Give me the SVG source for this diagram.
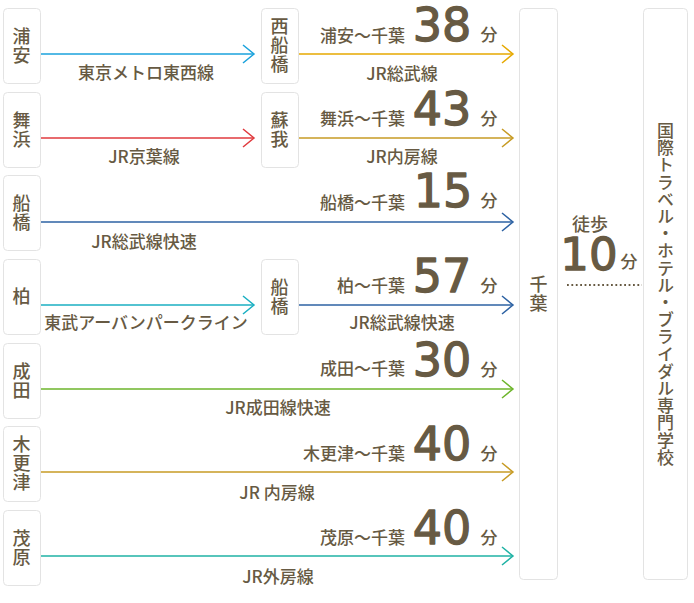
<svg xmlns="http://www.w3.org/2000/svg" width="694" height="603" viewBox="0 0 694 603">
<style>
.bg{fill:#ffffff}
.box{fill:#ffffff;stroke:#e3e3e3;stroke-width:1}
.t{font-family:"Noto Sans CJK JP","Noto Sans",sans-serif;fill:#675a43;font-weight:500}
.st{font-size:18px;writing-mode:vertical-rl;text-anchor:middle;letter-spacing:1px}
.lb{font-size:17px}
.lc{text-anchor:middle}
.le{text-anchor:end}
.num{font-family:"DejaVu Sans","Liberation Sans",sans-serif;font-weight:normal;font-size:46px;fill:#675a43;stroke:#675a43;stroke-width:1.3px;stroke-linejoin:round;text-anchor:middle}
.ln{fill:none;stroke-width:1.5}
.dot{fill:none;stroke:#675a43;stroke-width:1.8;stroke-dasharray:1.8 2.6}
</style>
<defs>
<marker id="mCyan" markerUnits="userSpaceOnUse" markerWidth="14" markerHeight="22" refX="12" refY="10" orient="auto" viewBox="0 0 14 22"><path d="M1,1 L12,10 L1,19" fill="none" stroke="#1aa2dc" stroke-width="1.5"/></marker>
<marker id="mYellow" markerUnits="userSpaceOnUse" markerWidth="14" markerHeight="22" refX="12" refY="10" orient="auto" viewBox="0 0 14 22"><path d="M1,1 L12,10 L1,19" fill="none" stroke="#e6a900" stroke-width="1.5"/></marker>
<marker id="mRed" markerUnits="userSpaceOnUse" markerWidth="14" markerHeight="22" refX="12" refY="10" orient="auto" viewBox="0 0 14 22"><path d="M1,1 L12,10 L1,19" fill="none" stroke="#e03a3e" stroke-width="1.5"/></marker>
<marker id="mMustard" markerUnits="userSpaceOnUse" markerWidth="14" markerHeight="22" refX="12" refY="10" orient="auto" viewBox="0 0 14 22"><path d="M1,1 L12,10 L1,19" fill="none" stroke="#c79b24" stroke-width="1.5"/></marker>
<marker id="mBlue" markerUnits="userSpaceOnUse" markerWidth="14" markerHeight="22" refX="12" refY="10" orient="auto" viewBox="0 0 14 22"><path d="M1,1 L12,10 L1,19" fill="none" stroke="#2d62a3" stroke-width="1.5"/></marker>
<marker id="mTeal" markerUnits="userSpaceOnUse" markerWidth="14" markerHeight="22" refX="12" refY="10" orient="auto" viewBox="0 0 14 22"><path d="M1,1 L12,10 L1,19" fill="none" stroke="#1aafc2" stroke-width="1.5"/></marker>
<marker id="mGreen" markerUnits="userSpaceOnUse" markerWidth="14" markerHeight="22" refX="12" refY="10" orient="auto" viewBox="0 0 14 22"><path d="M1,1 L12,10 L1,19" fill="none" stroke="#6db52b" stroke-width="1.5"/></marker>
<marker id="mSea" markerUnits="userSpaceOnUse" markerWidth="14" markerHeight="22" refX="12" refY="10" orient="auto" viewBox="0 0 14 22"><path d="M1,1 L12,10 L1,19" fill="none" stroke="#1fb2a4" stroke-width="1.5"/></marker>
</defs>
<rect class="bg" x="0" y="0" width="694" height="603"/>

<g id="connectors">
<line class="ln" x1="40" y1="54" x2="254" y2="54" stroke="#1aa2dc" marker-end="url(#mCyan)"/>
<line class="ln" x1="298" y1="54" x2="513" y2="54" stroke="#e6a900" marker-end="url(#mYellow)"/>
<line class="ln" x1="40" y1="138" x2="254" y2="138" stroke="#e03a3e" marker-end="url(#mRed)"/>
<line class="ln" x1="298" y1="138" x2="513" y2="138" stroke="#c79b24" marker-end="url(#mMustard)"/>
<line class="ln" x1="40" y1="222" x2="513" y2="222" stroke="#2d62a3" marker-end="url(#mBlue)"/>
<line class="ln" x1="40" y1="305" x2="254" y2="305" stroke="#1aafc2" marker-end="url(#mTeal)"/>
<line class="ln" x1="298" y1="305" x2="513" y2="305" stroke="#2d62a3" marker-end="url(#mBlue)"/>
<line class="ln" x1="40" y1="389" x2="513" y2="389" stroke="#6db52b" marker-end="url(#mGreen)"/>
<line class="ln" x1="40" y1="472" x2="513" y2="472" stroke="#c79b24" marker-end="url(#mMustard)"/>
<line class="ln" x1="40" y1="556" x2="513" y2="556" stroke="#1fb2a4" marker-end="url(#mSea)"/>
<line class="dot" x1="567" y1="285" x2="642" y2="285"/>
</g>

<g id="labels">
<text class="t lb lc" x="146" y="79">東京メトロ東西線</text>
<text class="t lb le" x="405" y="42">浦安〜千葉</text>
<text class="num" x="442" y="41">38</text>
<text class="t lb lc" x="489" y="41">分</text>
<text class="t lb lc" x="402" y="80">JR総武線</text>

<text class="t lb lc" x="144" y="163">JR京葉線</text>
<text class="t lb le" x="405" y="125">舞浜〜千葉</text>
<text class="num" x="442" y="125">43</text>
<text class="t lb lc" x="489" y="125">分</text>
<text class="t lb lc" x="402" y="163">JR内房線</text>

<text class="t lb le" x="405" y="209">船橋〜千葉</text>
<text class="num" x="443" y="207">15</text>
<text class="t lb lc" x="489" y="207">分</text>
<text class="t lb lc" x="144" y="248">JR総武線快速</text>

<text class="t lb lc" x="146" y="329">東武アーバンパークライン</text>
<text class="t lb le" x="405" y="292">柏〜千葉</text>
<text class="num" x="442" y="292">57</text>
<text class="t lb lc" x="489" y="292">分</text>
<text class="t lb lc" x="402" y="329">JR総武線快速</text>

<text class="t lb le" x="405" y="375">成田〜千葉</text>
<text class="num" x="442" y="376">30</text>
<text class="t lb lc" x="489" y="376">分</text>
<text class="t lb lc" x="278" y="414">JR成田線快速</text>

<text class="t lb le" x="405" y="460">木更津〜千葉</text>
<text class="num" x="442" y="460">40</text>
<text class="t lb lc" x="489" y="460">分</text>
<text class="t lb lc" x="277" y="499">JR 内房線</text>

<text class="t lb le" x="405" y="544">茂原〜千葉</text>
<text class="num" x="442" y="544">40</text>
<text class="t lb lc" x="489" y="544">分</text>
<text class="t lb lc" x="278" y="583">JR外房線</text>

<text class="t lc" x="590" y="231" style="font-size:18px">徒歩</text>
<text class="num" x="589" y="270" style="font-size:45px">10</text>
<text class="t lc" x="629" y="268" style="font-size:17px">分</text>
</g>

<g id="node-urayasu"><rect class="box" x="3.5" y="8.5" width="37" height="75" rx="4"/><text class="t st" x="21.5" y="46">浦安</text></g>
<g id="node-maihama"><rect class="box" x="3.5" y="92.5" width="37" height="75" rx="4"/><text class="t st" x="21.5" y="130">舞浜</text></g>
<g id="node-funabashi"><rect class="box" x="3.5" y="175.5" width="37" height="75" rx="4"/><text class="t st" x="21.5" y="213">船橋</text></g>
<g id="node-kashiwa"><rect class="box" x="3.5" y="259.5" width="37" height="75" rx="4"/><text class="t st" x="21.5" y="297">柏</text></g>
<g id="node-narita"><rect class="box" x="3.5" y="343.5" width="37" height="75" rx="4"/><text class="t st" x="21.5" y="381">成田</text></g>
<g id="node-kisarazu"><rect class="box" x="3.5" y="426.5" width="37" height="75" rx="4"/><text class="t st" x="21.5" y="464">木更津</text></g>
<g id="node-mobara"><rect class="box" x="3.5" y="510.5" width="37" height="75" rx="4"/><text class="t st" x="21.5" y="548">茂原</text></g>

<g id="node-nishifunabashi"><rect class="box" x="261.5" y="8.5" width="37" height="75" rx="4"/><text class="t st" x="279.5" y="46">西船橋</text></g>
<g id="node-soga"><rect class="box" x="261.5" y="92.5" width="37" height="75" rx="4"/><text class="t st" x="279.5" y="130">蘇我</text></g>
<g id="node-funabashi2"><rect class="box" x="261.5" y="259.5" width="37" height="75" rx="4"/><text class="t st" x="279.5" y="297">船橋</text></g>

<g id="node-chiba"><rect class="box" x="519.5" y="8.5" width="38" height="571" rx="4"/><text class="t st" x="538.5" y="294">千葉</text></g>
<g id="node-school"><rect class="box" x="643.5" y="8.5" width="44" height="571" rx="4"/><text class="t st" x="665.5" y="294" style="font-size:17px;letter-spacing:0.2px">国際トラベル・ホテル・ブライダル専門学校</text></g>
</svg>
